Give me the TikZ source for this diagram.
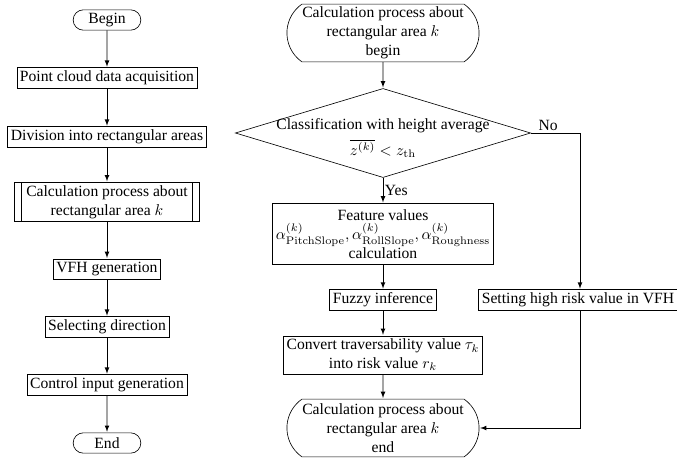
\documentclass[tikz,border=0pt]{standalone}
\usepackage{amsmath, amssymb}
\usepackage[no-math]{fontspec}
\setmainfont{Liberation Serif}
\usetikzlibrary{shapes.geometric, shapes.misc}

\tikzset{
    box/.style={draw, rectangle, align=center, inner xsep=2pt, inner ysep=2pt},
    terminal/.style={draw, rounded rectangle, align=center, inner ysep=1pt},
    subterminal/.style={terminal, rounded rectangle arc length=110, inner xsep=0pt, minimum width=123pt, minimum height=37pt},
    decision/.style={draw, diamond, minimum width=189pt, minimum height=57pt, inner sep=0pt},
    flow/.style={-latex, shorten >=0.5pt},
}

\begin{document}
\begin{tikzpicture}[x=0.64pt, y=-0.64pt]
    \useasboundingbox (0,0) rectangle (677,464);
    % main loop
    \node[terminal, minimum width=50pt, minimum height=13pt] (begin) at (107,20) {Begin};
    \node[box] (acq) at (107,78) {Point cloud data acquisition};
    \node[box] (div) at (107,137) {Division into rectangular areas};
    \node[box, inner xsep=7.5pt, minimum height=25pt] (calc) at (107,202) {Calculation process about\\rectangular area $k$};
    \draw ([xshift=4.5pt]calc.north west) -- ([xshift=4.5pt]calc.south west)
        ([xshift=-4.5pt]calc.north east) -- ([xshift=-4.5pt]calc.south east);
    \node[box] (vfh) at (107,269) {VFH generation};
    \node[box] (sel) at (107,327) {Selecting direction};
    \node[box] (ctrl) at (107,385) {Control input generation};
    \node[terminal, minimum width=50pt, minimum height=13pt] (end) at (107,443) {End};
    \foreach \from/\to in {begin/acq, acq/div, div/calc, calc/vfh, vfh/sel, sel/ctrl, ctrl/end}
        \draw[flow] (\from) -- (\to);
    % process about area k
    \node[subterminal] (subbegin) at (383,33) {Calculation process about\\rectangular area $k$\\begin};
    \node[decision] (cls) at (383,133) {};
    \node[align=center, inner sep=0pt] (clstext) at (383,138) {Classification with height average\\[3pt]$\overline{z^{(k)}} < z_{\mathrm{th}}$};
    \node[box, minimum height=39pt] (feat) at (383,234) {Feature values\\$\alpha^{(k)}_{\mathrm{PitchSlope}}, \alpha^{(k)}_{\mathrm{RollSlope}}, \alpha^{(k)}_{\mathrm{Roughness}}$\\calculation};
    \node[box] (fuzzy) at (383,300) {Fuzzy inference};
    \node[box] (conv) at (383,355) {Convert traversability value $\tau_k$\\into risk value $r_k$};
    \node[subterminal] (subend) at (383,428) {Calculation process about\\rectangular area $k$\\end};
    \node[box] (high) at (578,300) {Setting high risk value in VFH};
    \coordinate (nocorner) at (580,133);
    \draw[flow] (subbegin) -- (cls);
    \draw[flow] (cls.south) -- (feat.north) node[midway, right, inner sep=1pt] {Yes};
    \draw (cls.east) -- (nocorner) node[pos=0.35, above, inner sep=1pt] {No};
    \draw[flow] (nocorner) -- (nocorner |- high.north);
    \draw[flow] (high.south -| nocorner) |- (subend.east);
    \foreach \from/\to in {feat/fuzzy, fuzzy/conv, conv/subend}
        \draw[flow] (\from) -- (\to);
\end{tikzpicture}
\end{document}
